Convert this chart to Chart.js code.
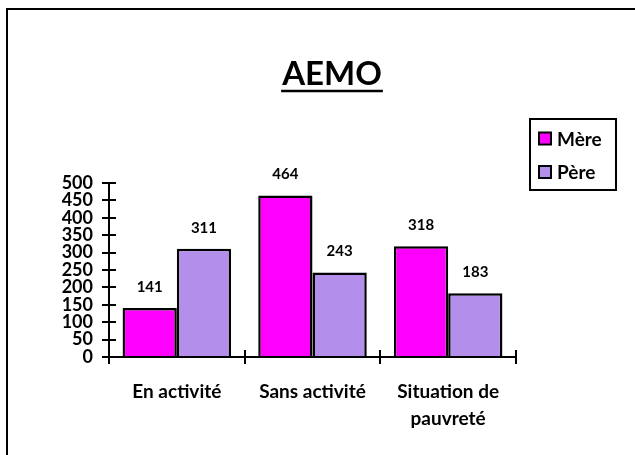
<!DOCTYPE html>
<html>
<head>
<meta charset="utf-8">
<script src="https://cdn.jsdelivr.net/npm/chart.js@4.4.0/dist/chart.umd.min.js"></script>
<style>
  html, body { margin: 0; padding: 0; background: #fff; overflow: hidden; }
  #wrap { position: relative; width: 635px; height: 455px; }
  #frame { position: absolute; left: 6px; top: 8px; width: 700px; height: 500px; border: 2px solid #000; box-sizing: border-box; }
  canvas { position: absolute; left: 0; top: 0; }
</style>
</head>
<body>
<div id="wrap">
  <div id="frame"></div>
  <canvas id="chart" width="635" height="455"></canvas>
</div>
<script>
// ─── Data ─────────────────────────────────────────────────────────────────────
const TITLE = 'AEMO';
const categories = ['En activité', 'Sans activité', ['Situation de', 'pauvreté']];
const mereValues = [141, 464, 318];
const pereValues = [311, 243, 183];
const seriesNames = ['Mère', 'Père'];
const yTicks = [0, 50, 100, 150, 200, 250, 300, 350, 400, 450, 500];

const FONT = 'Lato, "Open Sans", sans-serif';
const MERE = '#FF00FF';
const PERE = '#B38FEB';

// ─── Plugin: title, value labels, inner tick halves, legend ───────────────────
const decorPlugin = {
    id: 'decor',
    afterDatasetsDraw(chart) {
        const ctx = chart.ctx;
        ctx.save();
        ctx.fillStyle = '#000';
        ctx.font = 'bold 15px ' + FONT;
        ctx.textAlign = 'center';
        ctx.textBaseline = 'middle';
        chart.data.datasets.forEach((ds, i) => {
            chart.getDatasetMeta(i).data.forEach((bar, j) => {
                ctx.fillText(String(ds.data[j]), bar.x, bar.y - 21);
            });
        });
        ctx.restore();
    },
    afterDraw(chart) {
        const ctx = chart.ctx;
        const x = chart.scales.x, y = chart.scales.y;
        ctx.save();
        ctx.strokeStyle = '#000';
        ctx.lineWidth = 2;

        // inner half of the crossing ticks
        ctx.beginPath();
        y.ticks.forEach(t => {
            const py = Math.round(y.getPixelForValue(t.value));
            ctx.moveTo(y.right, py);
            ctx.lineTo(y.right + 7, py);
        });
        const n = chart.data.labels.length;
        for (let i = 1; i <= n; i++) {
            const px = Math.round(x.left + i * x.width / n);
            ctx.moveTo(px, x.top);
            ctx.lineTo(px, x.top - 7);
        }
        ctx.stroke();

        // title with underline
        ctx.fillStyle = '#000';
        ctx.font = 'bold 33px ' + FONT;
        ctx.textAlign = 'center';
        ctx.textBaseline = 'middle';
        ctx.fillText(TITLE, 332, 74);
        const w = ctx.measureText(TITLE).width;
        ctx.lineWidth = 2.5;
        ctx.beginPath();
        ctx.moveTo(332 - w / 2 - 1, 91);
        ctx.lineTo(332 + w / 2 + 1, 91);
        ctx.stroke();

        // legend
        ctx.lineWidth = 2;
        ctx.strokeRect(530, 119, 86, 71);
        ctx.font = 'bold 19px ' + FONT;
        ctx.textAlign = 'left';
        chart.data.datasets.forEach((ds, i) => {
            const cy = 138.5 + i * 33.5;
            ctx.fillStyle = ds.backgroundColor;
            ctx.fillRect(539, cy - 6, 12, 12);
            ctx.strokeRect(539, cy - 6, 12, 12);
            ctx.fillStyle = '#000';
            ctx.fillText(ds.label, 557, cy + 1);
        });
        ctx.restore();
    }
};

// ─── Chart ────────────────────────────────────────────────────────────────────
new Chart(document.getElementById('chart'), {
    type: 'bar',
    data: {
        labels: categories,
        datasets: [
            { label: seriesNames[0], data: mereValues, backgroundColor: MERE, borderColor: '#000', borderWidth: 2.5, borderSkipped: 'bottom' },
            { label: seriesNames[1], data: pereValues, backgroundColor: PERE, borderColor: '#000', borderWidth: 2.5, borderSkipped: 'bottom' }
        ]
    },
    options: {
        responsive: false,
        animation: false,
        layout: { padding: { top: 183, right: 119, bottom: 0, left: 0 } },
        plugins: { legend: { display: false }, title: { display: false }, tooltip: { enabled: false } },
        datasets: { bar: { categoryPercentage: 0.8, barPercentage: 1 } },
        scales: {
            x: {
                offset: true,
                grid: { display: true, offset: true, drawOnChartArea: false, color: '#000', lineWidth: 2, tickLength: 7 },
                border: { display: true, color: '#000', width: 2 },
                ticks: { color: '#000', font: { family: FONT, size: 19, weight: 'bold', lineHeight: 1.42 }, padding: 14, maxRotation: 0, autoSkip: false },
                afterFit(scale) { scale.height = 98; }
            },
            y: {
                min: 0,
                max: 500,
                afterBuildTicks(scale) { scale.ticks = yTicks.map(v => ({ value: v })); },
                grid: { display: true, drawOnChartArea: false, color: '#000', lineWidth: 2, tickLength: 7 },
                border: { display: true, color: '#000', width: 2 },
                ticks: { color: '#000', font: { family: FONT, size: 18, weight: 'bold', lineHeight: 1 }, padding: 9, autoSkip: false },
                afterFit(scale) { scale.width = 109; }
            }
        }
    },
    plugins: [decorPlugin]
});
</script>
</body>
</html>
